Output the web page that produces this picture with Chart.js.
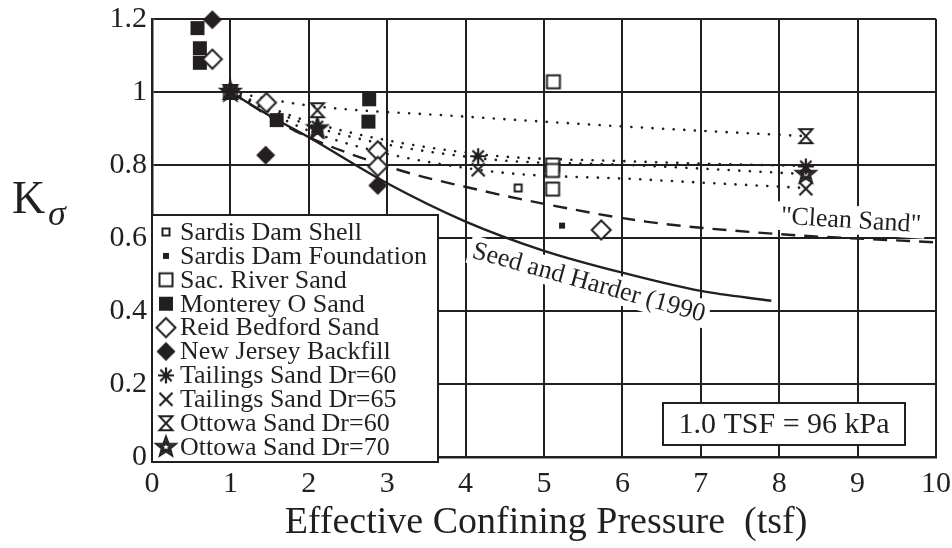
<!DOCTYPE html>
<html>
<head>
<meta charset="utf-8">
<script src="https://cdn.jsdelivr.net/npm/chart.js@4.4.0/dist/chart.umd.min.js"></script>
<style>
  html, body { margin: 0; padding: 0; background: #fff; }
  canvas { display: block; }
</style>
</head>
<body>
<canvas id="chart" width="952" height="548"></canvas>
<script>
const INK = '#231f20';
const SERIF = '"Liberation Serif", "Times New Roman", serif';

// ---- datos ----
const xTicks = ['0', '1', '2', '3', '4', '5', '6', '7', '8', '9', '10'];
const yTicks = ['0', '0.2', '0.4', '0.6', '0.8', '1', '1.2'];

const shellX = [1.0, 4.67];
const shellY = [1.0, 0.737];
const foundX = [5.23];
const foundY = [0.634];
const sacX = [1.0, 5.12, 5.11, 5.11, 5.11];
const sacY = [1.0, 1.028, 0.80, 0.785, 0.734];
const montX = [0.58, 0.61, 0.61, 1.59, 2.77, 2.76];
const montY = [1.175, 1.12, 1.08, 0.923, 0.98, 0.919];
const reidX = [0.77, 1.46, 2.88, 2.88, 5.73];
const reidY = [1.09, 0.971, 0.839, 0.796, 0.622];
const njX = [0.77, 1.45, 2.88];
const njY = [1.198, 0.827, 0.744];
const tail60X = [1.0, 2.11, 4.16, 8.34];
const tail60Y = [1.0, 0.905, 0.824, 0.796];
const tail65X = [1.0, 2.11, 4.16, 8.34];
const tail65Y = [1.0, 0.89, 0.787, 0.735];
const ott60X = [1.0, 2.11, 8.34];
const ott60Y = [1.0, 0.95, 0.879];
const ott70X = [1.0, 2.11, 8.34];
const ott70Y = [1.0, 0.90, 0.775];

// lineas de tendencia (punteadas)
const trendOtt60X = [1.0, 2.0, 3.9, 6.3, 8.34];
const trendOtt60Y = [1.0, 0.963, 0.934, 0.902, 0.879];
const trendTail60X = [1.0, 2.11, 4.16, 6.1, 8.34];
const trendTail60Y = [1.0, 0.912, 0.83, 0.81, 0.797];
const trendOtt70X = [1.0, 2.11, 4.2, 6.1, 8.34];
const trendOtt70Y = [1.0, 0.902, 0.818, 0.80, 0.775];
const trendTail65X = [1.0, 2.11, 4.16, 6.3, 8.34];
const trendTail65Y = [1.0, 0.885, 0.787, 0.76, 0.737];

// Seed and Harder (1990) y "Clean Sand"
const seedX = [1.0, 1.5, 2.0, 3.0, 4.0, 5.0, 6.0, 7.0, 7.9];
const seedY = [1.0, 0.935, 0.876, 0.75, 0.645, 0.565, 0.505, 0.455, 0.428];
const cleanX = [1.0, 1.83, 3.14, 3.98, 4.97, 6.3, 7.91, 10.0];
const cleanY = [1.0, 0.893, 0.787, 0.741, 0.695, 0.645, 0.612, 0.588];

const legendNames = [
  'Sardis Dam Shell', 'Sardis Dam Foundation', 'Sac. River Sand', 'Monterey O Sand',
  'Reid Bedford Sand', 'New Jersey Backfill', 'Tailings Sand Dr=60', 'Tailings Sand Dr=65',
  'Ottowa Sand Dr=60', 'Ottowa Sand Dr=70'
];

const pts = (xs, ys) => xs.map((x, i) => ({ x: x, y: ys[i] }));

// ---- simbolos dibujados a mano ----
function marker(kind) {
  const c = document.createElement('canvas');
  c.width = c.height = 26;
  const g = c.getContext('2d');
  g.translate(13, 13);
  g.strokeStyle = INK;
  g.fillStyle = INK;
  g.lineWidth = 2;
  if (kind === 'smallOpen') {
    g.fillStyle = '#fff';
    g.fillRect(-3.5, -3.5, 7, 7);
    g.strokeRect(-3.5, -3.5, 7, 7);
  } else if (kind === 'smallFill') {
    g.fillRect(-3, -3, 6, 6);
  } else if (kind === 'openSq') {
    g.fillStyle = '#fff';
    g.fillRect(-6.5, -6.5, 13, 13);
    g.strokeRect(-6.5, -6.5, 13, 13);
  } else if (kind === 'fillSq') {
    g.fillRect(-7, -7, 14, 14);
  } else if (kind === 'openDia' || kind === 'fillDia') {
    g.beginPath();
    g.moveTo(0, -9.5); g.lineTo(9.5, 0); g.lineTo(0, 9.5); g.lineTo(-9.5, 0);
    g.closePath();
    if (kind === 'openDia') {
      g.fillStyle = '#fff';
      g.fill();
      g.stroke();
    } else {
      g.fill();
    }
  } else if (kind === 'aster') {
    g.lineWidth = 2.2;
    g.beginPath();
    for (let a = 0; a < 4; a++) {
      const t = a * Math.PI / 4;
      g.moveTo(-8 * Math.cos(t), -8 * Math.sin(t));
      g.lineTo(8 * Math.cos(t), 8 * Math.sin(t));
    }
    g.stroke();
  } else if (kind === 'cross') {
    g.lineWidth = 2.2;
    g.beginPath();
    g.moveTo(-6.5, -6.5); g.lineTo(6.5, 6.5);
    g.moveTo(6.5, -6.5); g.lineTo(-6.5, 6.5);
    g.stroke();
  } else if (kind === 'hour') {
    g.beginPath();
    g.moveTo(-6.5, -7); g.lineTo(6.5, -7); g.lineTo(-6.5, 7); g.lineTo(6.5, 7);
    g.closePath();
    g.stroke();
  } else if (kind === 'star') {
    g.lineWidth = 2;
    g.beginPath();
    for (let k = 0; k < 10; k++) {
      const r = k % 2 === 0 ? 10.5 : 4.4;
      const t = -Math.PI / 2 + k * Math.PI / 5;
      if (k === 0) g.moveTo(r * Math.cos(t), r * Math.sin(t));
      else g.lineTo(r * Math.cos(t), r * Math.sin(t));
    }
    g.closePath();
    g.stroke();
    g.beginPath();
    for (let k = 0; k < 10; k++) {
      const r = k % 2 === 0 ? 5.5 : 2.5;
      const t = -Math.PI / 2 + k * Math.PI / 5;
      if (k === 0) g.moveTo(r * Math.cos(t), r * Math.sin(t));
      else g.lineTo(r * Math.cos(t), r * Math.sin(t));
    }
    g.closePath();
    g.stroke();
  }
  return c;
}

const markerKinds = ['smallOpen', 'smallFill', 'openSq', 'fillSq', 'openDia', 'fillDia', 'aster', 'cross', 'hour', 'star'];
const markers = markerKinds.map(marker);

function pointSet(label, xs, ys, idx) {
  return {
    type: 'scatter',
    label: label,
    data: pts(xs, ys),
    pointStyle: markers[idx],
    pointRadius: 5,
    showLine: false,
    order: 1,
    clip: false
  };
}

function lineSet(label, xs, ys, dash, width, cap) {
  return {
    type: 'line',
    label: label,
    data: pts(xs, ys),
    borderColor: INK,
    borderWidth: width,
    borderDash: dash,
    borderCapStyle: cap,
    pointRadius: 0,
    fill: false,
    cubicInterpolationMode: 'monotone',
    order: 2
  };
}

const datasets = [
  lineSet('trend ott60', trendOtt60X, trendOtt60Y, [0.1, 10.5], 2.6, 'round'),
  lineSet('trend tail60', trendTail60X, trendTail60Y, [0.1, 10.5], 2.6, 'round'),
  lineSet('trend ott70', trendOtt70X, trendOtt70Y, [0.1, 10.5], 2.6, 'round'),
  lineSet('trend tail65', trendTail65X, trendTail65Y, [0.1, 10.5], 2.6, 'round'),
  lineSet('Clean Sand', cleanX, cleanY, [14, 9], 2.4, 'butt'),
  lineSet('Seed and Harder (1990)', seedX, seedY, [], 2.4, 'butt'),
  pointSet(legendNames[9], ott70X, ott70Y, 9),
  pointSet(legendNames[8], ott60X, ott60Y, 8),
  pointSet(legendNames[7], tail65X, tail65Y, 7),
  pointSet(legendNames[6], tail60X, tail60Y, 6),
  pointSet(legendNames[5], njX, njY, 5),
  pointSet(legendNames[4], reidX, reidY, 4),
  pointSet(legendNames[3], montX, montY, 3),
  pointSet(legendNames[2], sacX, sacY, 2),
  pointSet(legendNames[0], shellX, shellY, 0),
  pointSet(legendNames[1], foundX, foundY, 1)
];

// textos rotados sobre fondo blanco (antes de los datos)
function labelOnWhite(ctx, text, cx, cy, angle, size) {
  ctx.save();
  ctx.translate(cx, cy);
  ctx.rotate(angle * Math.PI / 180);
  ctx.font = size + 'px ' + SERIF;
  const w = ctx.measureText(text).width;
  ctx.fillStyle = '#fff';
  ctx.fillRect(-w / 2 - 4, -size * 0.55, w + 8, size * 1.1);
  ctx.fillStyle = INK;
  ctx.textAlign = 'center';
  ctx.textBaseline = 'middle';
  ctx.fillText(text, 0, 1);
  ctx.restore();
}

const annotations = {
  id: 'annotations',
  beforeDatasetsDraw(chart) {
    const ctx = chart.ctx;
    labelOnWhite(ctx, 'Seed and Harder (1990', 589, 282, 15.5, 26);
    labelOnWhite(ctx, '"Clean Sand"', 851, 220, 3.5, 26);
  },
  afterDraw(chart) {
    const ctx = chart.ctx;
    ctx.save();
    // leyenda
    ctx.fillStyle = '#fff';
    ctx.fillRect(152, 215, 286, 247);
    ctx.strokeStyle = INK;
    ctx.lineWidth = 2;
    ctx.strokeRect(152, 215, 286, 247);
    ctx.font = '26px ' + SERIF;
    ctx.fillStyle = INK;
    ctx.textBaseline = 'middle';
    ctx.textAlign = 'left';
    legendNames.forEach((name, i) => {
      const y = 232 + i * 23.9;
      const m = markers[i];
      ctx.drawImage(m, 166 - m.width / 2, y - m.height / 2);
      ctx.fillText(name, 180, y + 1);
    });
    // caja de conversion
    ctx.fillStyle = '#fff';
    ctx.fillRect(663, 403, 242, 42);
    ctx.strokeRect(663, 403, 242, 42);
    ctx.fillStyle = INK;
    ctx.font = '30px ' + SERIF;
    ctx.textAlign = 'center';
    ctx.fillText('1.0 TSF = 96 kPa', 784, 425);
    // titulos de ejes
    ctx.font = '38px ' + SERIF;
    ctx.textBaseline = 'alphabetic';
    ctx.fillText('Effective Confining Pressure  (tsf)', 546, 533);
    ctx.textAlign = 'left';
    ctx.font = '46px ' + SERIF;
    ctx.fillText('K', 12, 213);
    ctx.font = 'italic 36px ' + SERIF;
    ctx.fillText('\u03C3', 48, 225);
    ctx.restore();
  }
};

new Chart(document.getElementById('chart'), {
  data: { datasets: datasets },
  options: {
    responsive: false,
    animation: false,
    layout: { padding: { left: 0, right: 16, top: 19, bottom: 0 } },
    plugins: { legend: { display: false }, tooltip: { enabled: false } },
    scales: {
      x: {
        type: 'linear',
        min: 0,
        max: 10,
        afterFit: s => { s.height = 91; s.paddingLeft = 0; s.paddingRight = 0; },
        grid: { color: INK, lineWidth: 2, drawTicks: false },
        border: { display: true, color: INK, width: 2.5 },
        ticks: {
          stepSize: 1,
          padding: 9,
          color: INK,
          font: { family: SERIF, size: 30 },
          callback: (v, i) => xTicks[i]
        }
      },
      y: {
        type: 'linear',
        min: 0,
        max: 1.2,
        afterFit: s => { s.width = 152; s.paddingTop = 0; s.paddingBottom = 0; },
        grid: { color: INK, lineWidth: 2, drawTicks: false },
        border: { display: true, color: INK, width: 2.5 },
        ticks: {
          stepSize: 0.2,
          padding: 5,
          color: INK,
          font: { family: SERIF, size: 30 },
          callback: (v, i) => yTicks[i]
        }
      }
    }
  },
  plugins: [annotations]
});
</script>
</body>
</html>
